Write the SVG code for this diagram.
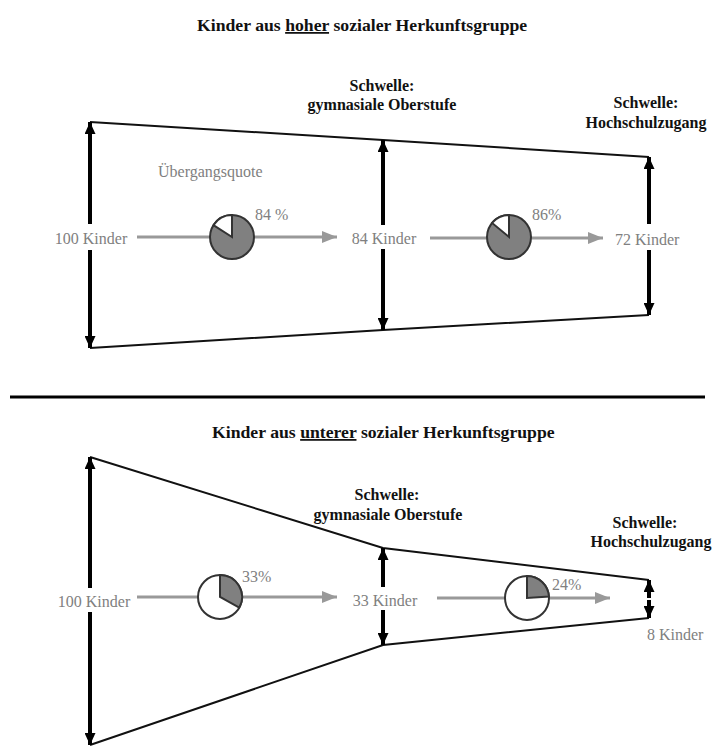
<svg xmlns="http://www.w3.org/2000/svg" width="715" height="747" viewBox="0 0 715 747">
<style>
.t{font-family:"Liberation Serif","Times New Roman",serif;font-size:16px;fill:#808080}
.b{font-family:"Liberation Serif","Times New Roman",serif;font-size:16px;font-weight:bold;fill:#111}
.h{font-family:"Liberation Serif","Times New Roman",serif;font-size:17.7px;font-weight:bold;fill:#111}
.edge{fill:none;stroke:#111;stroke-width:2}
.va{fill:none;stroke:#000;stroke-width:4;marker-end:url(#bk)}
.ga{fill:none;stroke:#999;stroke-width:3;marker-end:url(#gy)}
.pie{stroke:#333;stroke-width:2}
</style>
<defs>
<marker id="bk" markerUnits="userSpaceOnUse" markerWidth="12" markerHeight="11" refX="12" refY="5.5" orient="auto"><path d="M0,0 L12,5.5 L0,11 z" fill="#000"/></marker>
<marker id="gy" markerUnits="userSpaceOnUse" markerWidth="15" markerHeight="12" refX="15" refY="6" orient="auto"><path d="M0,0 L15,6 L0,12 z" fill="#999"/></marker>
</defs>
<rect width="715" height="747" fill="#fff"/>

<g id="title-top"><text class="h" x="197" y="31">Kinder aus <tspan text-decoration="underline">hoher</tspan> sozialer Herkunftsgruppe</text></g>
<g id="divider"><line x1="10" y1="397" x2="705" y2="397" stroke="#000" stroke-width="3"/></g>
<g id="title-bottom"><text class="h" x="212" y="438">Kinder aus <tspan text-decoration="underline">unterer</tspan> sozialer Herkunftsgruppe</text></g>

<g id="connectors">
<polyline class="edge" points="90,122 383,140 649,157"/>
<polyline class="edge" points="90,348 383,330 649,315"/>
<polyline class="edge" points="90,457 383,548 649,580"/>
<polyline class="edge" points="90,745 383,645 649,618"/>
<path class="va" d="M90,224 V122"/><path class="va" d="M90,250 V348"/>
<path class="va" d="M383,225 V140"/><path class="va" d="M383,249 V330"/>
<path class="va" d="M649,224 V157"/><path class="va" d="M649,250 V315"/>
<path class="va" d="M90,588 V457"/><path class="va" d="M90,612 V745"/>
<path class="va" d="M383,587 V548"/><path class="va" d="M383,610 V645"/>
<path class="va" d="M649,598 V580"/><path class="va" d="M649,600 V618"/>
<path class="ga" d="M137,237 H337"/>
<path class="ga" d="M430,238 H603"/>
<path class="ga" d="M137,597 H337"/>
<path class="ga" d="M437,598 H610"/>
</g>

<g id="pie-84">
<circle class="pie" cx="232" cy="237" r="22" fill="#808080"/>
<path class="pie" d="M232,237 L232,215 A22,22 0 0,0 213.43,225.21 Z" fill="#fff" stroke-width="1.5"/>
</g>
<g id="pie-86">
<circle class="pie" cx="509" cy="237" r="22" fill="#808080"/>
<path class="pie" d="M509,237 L509,215 A22,22 0 0,0 492.05,222.98 Z" fill="#fff" stroke-width="1.5"/>
</g>
<g id="pie-33">
<circle class="pie" cx="220" cy="597" r="22" fill="#fff"/>
<path class="pie" d="M220,597 L220,575 A22,22 0 0,1 239.28,607.6 Z" fill="#808080" stroke-width="1.5"/>
</g>
<g id="pie-24">
<circle class="pie" cx="527" cy="598" r="22" fill="#fff"/>
<path class="pie" d="M527,598 L527,576 A22,22 0 0,1 548.96,596.62 Z" fill="#808080" stroke-width="1.5"/>
</g>

<g id="labels-top">
<text class="b" x="382" y="91" text-anchor="middle">Schwelle:</text>
<text class="b" x="382" y="110" text-anchor="middle">gymnasiale Oberstufe</text>
<text class="b" x="646" y="108" text-anchor="middle">Schwelle:</text>
<text class="b" x="646" y="128" text-anchor="middle">Hochschulzugang</text>
<text class="t" x="158" y="177" font-size="15">Übergangsquote</text>
<text class="t" x="91" y="244" text-anchor="middle">100 Kinder</text>
<text class="t" x="255" y="220">84 %</text>
<text class="t" x="384" y="244" text-anchor="middle">84 Kinder</text>
<text class="t" x="532" y="220">86%</text>
<text class="t" x="615" y="245">72 Kinder</text>
</g>
<g id="labels-bottom">
<text class="b" x="387" y="500" text-anchor="middle">Schwelle:</text>
<text class="b" x="388" y="520" text-anchor="middle">gymnasiale Oberstufe</text>
<text class="b" x="645" y="528" text-anchor="middle">Schwelle:</text>
<text class="b" x="651" y="547" text-anchor="middle">Hochschulzugang</text>
<text class="t" x="94" y="607" text-anchor="middle">100 Kinder</text>
<text class="t" x="242" y="582">33%</text>
<text class="t" x="385" y="606" text-anchor="middle">33 Kinder</text>
<text class="t" x="552" y="590">24%</text>
<text class="t" x="647" y="640">8 Kinder</text>
</g>
</svg>
